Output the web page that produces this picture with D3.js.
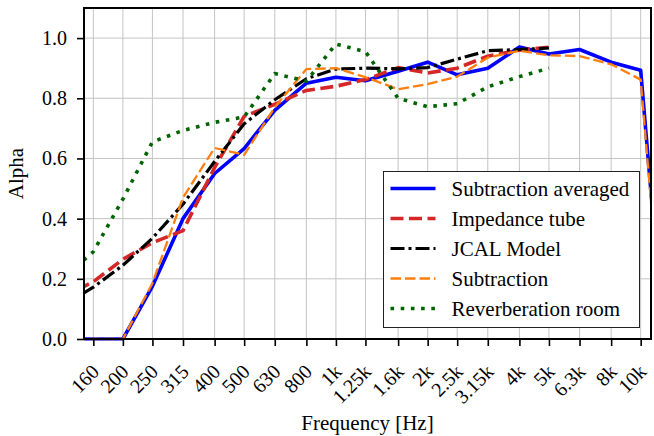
<!DOCTYPE html>
<html>
<head>
<meta charset="utf-8">
<script src="https://cdn.jsdelivr.net/npm/d3@7"></script>
<style>
  body { margin: 0; background: #fff; }
  svg { display: block; }
  text { font-family: "Liberation Serif", "Times New Roman", serif; fill: #000; }
</style>
</head>
<body>
<svg id="chart" width="654" height="436" font-family="Liberation Serif, serif"></svg>
<script>
// One-third octave band centre frequencies (Hz)
const frequencies = [125, 160, 200, 250, 315, 400, 500, 630, 800, 1000, 1250, 1600,
                     2000, 2500, 3150, 4000, 5000, 6300, 8000, 10000, 12500];

const tickFrequencies = [160, 200, 250, 315, 400, 500, 630, 800, 1000, 1250, 1600,
                         2000, 2500, 3150, 4000, 5000, 6300, 8000, 10000];
const tickLabels = ["160", "200", "250", "315", "400", "500", "630", "800", "1k", "1.25k",
                    "1.6k", "2k", "2.5k", "3.15k", "4k", "5k", "6.3k", "8k", "10k"];
const yTicks = [0.0, 0.2, 0.4, 0.6, 0.8, 1.0];

// Absorption coefficients per band
const subtractionAveraged = [0, 0, 0, 0.175, 0.40, 0.55, 0.633, 0.76, 0.85, 0.87, 0.858, 0.89,
                             0.92, 0.878, 0.90, 0.97, 0.947, 0.962, 0.92, 0.893, -0.27];
const impedanceTube = [0.137, 0.19, 0.265, 0.32, 0.36, 0.57, 0.74, 0.78, 0.826, 0.84, 0.862, 0.902,
                       0.884, 0.90, 0.94, 0.96, 0.97];
const jcalModel = [0.107, 0.172, 0.245, 0.335, 0.448, 0.59, 0.715, 0.795, 0.865, 0.897, 0.90, 0.898,
                   0.902, 0.93, 0.958, 0.962, 0.967];
const subtraction = [0, 0, 0, 0.185, 0.47, 0.635, 0.612, 0.77, 0.897, 0.90, 0.87, 0.83,
                     0.847, 0.872, 0.935, 0.958, 0.943, 0.94, 0.913, 0.862, -0.3];
const reverberationRoom = [0.195, 0.29, 0.465, 0.655, 0.693, 0.72, 0.738, 0.882, 0.857, 0.98, 0.955, 0.80,
                           0.772, 0.782, 0.838, 0.872, 0.90];

const seriesNames = ["Subtraction averaged", "Impedance tube", "JCAL Model", "Subtraction", "Reverberation room"];
const seriesValues = [subtractionAveraged, impedanceTube, jcalModel, subtraction, reverberationRoom];
const seriesStyles = [
  { color: "#0000ff", width: 3.6, dash: null },
  { color: "#d62728", width: 3.6, dash: "13,5.5" },
  { color: "#000000", width: 3.2, dash: "14,4,3,4" },
  { color: "#ff7f0e", width: 2.3, dash: "10.5,4" },
  { color: "#006400", width: 3.6, dash: "3.6,6.6" }
];

const W = 654, H = 436;
const plot = { left: 84, right: 651, top: 8, bottom: 339 };
const xLim = [149.1, 10810];
const yLim = [0, 1.1];

const svg = d3.select("#chart");
svg.append("rect").attr("width", W).attr("height", H).attr("fill", "#fff");

const x = d3.scaleLog().domain(xLim).range([plot.left, plot.right]);
const y = d3.scaleLinear().domain(yLim).range([plot.bottom, plot.top]);

// Grid
const grid = svg.append("g").attr("stroke", "#c4c4c4").attr("stroke-width", 1);
tickFrequencies.forEach(f => {
  grid.append("line").attr("x1", x(f)).attr("x2", x(f))
    .attr("y1", plot.top).attr("y2", plot.bottom);
});
yTicks.forEach(v => {
  grid.append("line").attr("x1", plot.left).attr("x2", plot.right)
    .attr("y1", y(v)).attr("y2", y(v));
});

// Data lines, clipped to the axes area (bottom edge kept just past the spine)
svg.append("clipPath").attr("id", "plot-clip").append("rect")
  .attr("x", plot.left).attr("y", plot.top)
  .attr("width", plot.right - plot.left).attr("height", plot.bottom - plot.top + 1.8);

const lineGen = d3.line().x(d => x(d[0])).y(d => y(d[1]));
const lines = svg.append("g").attr("clip-path", "url(#plot-clip)");
seriesValues.forEach((vals, i) => {
  const pts = vals.map((v, j) => [frequencies[j], v]);
  const s = seriesStyles[i];
  lines.append("path").datum(pts)
    .attr("d", lineGen)
    .attr("fill", "none")
    .attr("stroke", s.color)
    .attr("stroke-width", s.width)
    .attr("stroke-dasharray", s.dash)
    .attr("stroke-linejoin", "round")
    .attr("stroke-linecap", s.dash ? "butt" : "square");
});

// Axes
const xAxis = d3.axisBottom(x).tickValues(tickFrequencies).tickFormat((d, i) => tickLabels[i])
  .tickSizeOuter(0).tickSizeInner(7);
const gx = svg.append("g").attr("transform", `translate(0,${plot.bottom})`).call(xAxis);
gx.select(".domain").remove();
gx.selectAll(".tick line").attr("stroke", "#000").attr("stroke-width", 1.6);
gx.selectAll(".tick text")
  .attr("font-size", 20)
  .attr("font-family", "Liberation Serif, serif")
  .attr("text-anchor", "end")
  .attr("dy", null)
  .attr("y", null)
  .attr("transform", "translate(6.5,34) rotate(-45)");

const yAxis = d3.axisLeft(y).tickValues(yTicks).tickFormat(d3.format(".1f"))
  .tickSizeOuter(0).tickSizeInner(7).tickPadding(10);
const gy = svg.append("g").attr("transform", `translate(${plot.left},0)`).call(yAxis);
gy.select(".domain").remove();
gy.selectAll(".tick line").attr("stroke", "#000").attr("stroke-width", 1.6);
gy.selectAll(".tick text").attr("font-size", 20).attr("font-family", "Liberation Serif, serif");

// Frame
svg.append("rect")
  .attr("x", plot.left).attr("y", plot.top)
  .attr("width", plot.right - plot.left).attr("height", plot.bottom - plot.top)
  .attr("fill", "none").attr("stroke", "#000").attr("stroke-width", 2);

// Axis titles
svg.append("text").attr("x", (plot.left + plot.right) / 2).attr("y", 430)
  .attr("text-anchor", "middle").attr("font-size", 21).text("Frequency [Hz]");
svg.append("text").attr("transform", `translate(23,${(plot.top + plot.bottom) / 2}) rotate(-90)`)
  .attr("text-anchor", "middle").attr("font-size", 21).text("Alpha");

// Legend
const legend = svg.append("g").attr("transform", "translate(383.5,171.5)");
legend.append("rect").attr("width", 256).attr("height", 156)
  .attr("fill", "#fff").attr("stroke", "#222").attr("stroke-width", 1);
seriesNames.forEach((name, i) => {
  const s = seriesStyles[i];
  const cy = 17 + i * 30;
  legend.append("line").attr("x1", 7).attr("x2", 52).attr("y1", cy).attr("y2", cy)
    .attr("stroke", s.color).attr("stroke-width", s.width)
    .attr("stroke-dasharray", s.dash);
  legend.append("text").attr("x", 68).attr("y", cy + 7).attr("font-size", 21).text(name);
});
</script>
</body>
</html>
